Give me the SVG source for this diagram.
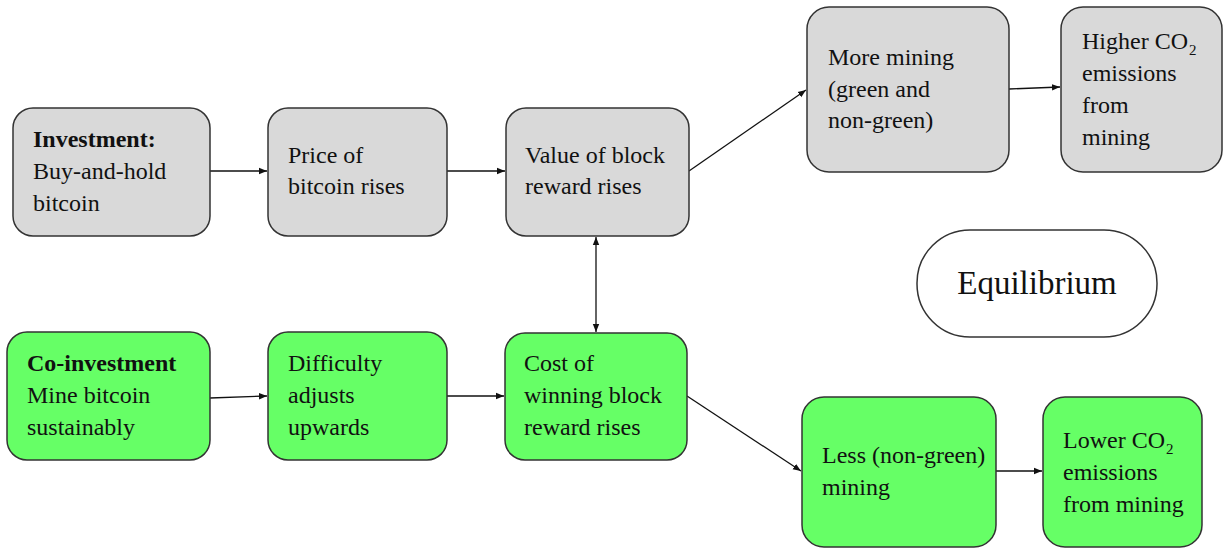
<svg xmlns="http://www.w3.org/2000/svg" width="1224" height="548" viewBox="0 0 1224 548">
<defs>
<style>
.g{fill:#d9d9d9;stroke:#333;stroke-width:1.5}
.gr{fill:#66ff66;stroke:#333;stroke-width:1.5}
.w{fill:#fff;stroke:#333;stroke-width:1.5}
.c{stroke:#111;stroke-width:1.3;fill:none}
</style>
<marker id="ah" viewBox="0 0 10 10" refX="10" refY="5" markerWidth="8" markerHeight="8" markerUnits="userSpaceOnUse" orient="auto-start-reverse">
<path d="M0,1 L10,5 L0,9 z" fill="#111"/>
</marker>
</defs>
<rect width="1224" height="548" fill="#fff"/>
<g id="connectors">
<line class="c" x1="210" y1="171" x2="267" y2="171" marker-end="url(#ah)"/>
<line class="c" x1="447" y1="171" x2="505" y2="171" marker-end="url(#ah)"/>
<line class="c" x1="689" y1="171" x2="806" y2="90" marker-end="url(#ah)"/>
<line class="c" x1="1009" y1="89" x2="1060" y2="87" marker-end="url(#ah)"/>
<line class="c" x1="596" y1="237" x2="596" y2="332" marker-start="url(#ah)" marker-end="url(#ah)"/>
<line class="c" x1="210" y1="398" x2="267" y2="396" marker-end="url(#ah)"/>
<line class="c" x1="447" y1="396" x2="504" y2="396" marker-end="url(#ah)"/>
<line class="c" x1="687" y1="396" x2="801" y2="471" marker-end="url(#ah)"/>
<line class="c" x1="996" y1="471" x2="1042" y2="471" marker-end="url(#ah)"/>
</g>
<g id="investment">
<rect class="g" x="13" y="108" width="197" height="128" rx="20"/>
<text x="33" y="147" style="font-family:'Liberation Serif',serif;font-size:24px;font-weight:bold;fill:#111">Investment:</text>
<text x="33" y="179" style="font-family:'Liberation Serif',serif;font-size:24px;fill:#111">Buy-and-hold</text>
<text x="33" y="211" style="font-family:'Liberation Serif',serif;font-size:24px;fill:#111">bitcoin</text>
</g>
<g id="price">
<rect class="g" x="268" y="108" width="179" height="128" rx="20"/>
<text x="288" y="163" style="font-family:'Liberation Serif',serif;font-size:24px;fill:#111">Price of</text>
<text x="288" y="194" style="font-family:'Liberation Serif',serif;font-size:24px;fill:#111">bitcoin rises</text>
</g>
<g id="value">
<rect class="g" x="506" y="108" width="183" height="128" rx="20"/>
<text x="525" y="163" style="font-family:'Liberation Serif',serif;font-size:24px;fill:#111">Value of block</text>
<text x="525" y="194" style="font-family:'Liberation Serif',serif;font-size:24px;fill:#111">reward rises</text>
</g>
<g id="more-mining">
<rect class="g" x="807" y="7" width="202" height="165" rx="22"/>
<text x="828" y="65" style="font-family:'Liberation Serif',serif;font-size:24px;fill:#111">More mining</text>
<text x="828" y="97" style="font-family:'Liberation Serif',serif;font-size:24px;fill:#111">(green and</text>
<text x="828" y="128" style="font-family:'Liberation Serif',serif;font-size:24px;fill:#111">non-green)</text>
</g>
<g id="higher-co2">
<rect class="g" x="1061" y="7" width="161" height="165" rx="22"/>
<text x="1082" y="49" style="font-family:'Liberation Serif',serif;font-size:24px;fill:#111">Higher CO</text>
<text x="1189" y="55" style="font-family:'Liberation Serif',serif;font-size:15px;fill:#111">2</text>
<text x="1082" y="81" style="font-family:'Liberation Serif',serif;font-size:24px;fill:#111">emissions</text>
<text x="1082" y="113" style="font-family:'Liberation Serif',serif;font-size:24px;fill:#111">from</text>
<text x="1082" y="145" style="font-family:'Liberation Serif',serif;font-size:24px;fill:#111">mining</text>
</g>
<g id="equilibrium">
<rect class="w" x="917" y="230" width="240" height="107" rx="53"/>
<text x="1037" y="294" text-anchor="middle" style="font-family:'Liberation Serif',serif;font-size:33px;fill:#111">Equilibrium</text>
</g>
<g id="co-investment">
<rect class="gr" x="7" y="332" width="203" height="128" rx="20"/>
<text x="27" y="371" style="font-family:'Liberation Serif',serif;font-size:24px;font-weight:bold;fill:#111">Co-investment</text>
<text x="27" y="403" style="font-family:'Liberation Serif',serif;font-size:24px;fill:#111">Mine bitcoin</text>
<text x="27" y="435" style="font-family:'Liberation Serif',serif;font-size:24px;fill:#111">sustainably</text>
</g>
<g id="difficulty">
<rect class="gr" x="268" y="332" width="179" height="128" rx="20"/>
<text x="288" y="371" style="font-family:'Liberation Serif',serif;font-size:24px;fill:#111">Difficulty</text>
<text x="288" y="403" style="font-family:'Liberation Serif',serif;font-size:24px;fill:#111">adjusts</text>
<text x="288" y="435" style="font-family:'Liberation Serif',serif;font-size:24px;fill:#111">upwards</text>
</g>
<g id="cost">
<rect class="gr" x="505" y="333" width="182" height="127" rx="20"/>
<text x="524" y="371" style="font-family:'Liberation Serif',serif;font-size:24px;fill:#111">Cost of</text>
<text x="524" y="403" style="font-family:'Liberation Serif',serif;font-size:24px;fill:#111">winning block</text>
<text x="524" y="435" style="font-family:'Liberation Serif',serif;font-size:24px;fill:#111">reward rises</text>
</g>
<g id="less-mining">
<rect class="gr" x="802" y="397" width="194" height="150" rx="22"/>
<text x="822" y="463" style="font-family:'Liberation Serif',serif;font-size:24px;fill:#111">Less (non-green)</text>
<text x="822" y="495" style="font-family:'Liberation Serif',serif;font-size:24px;fill:#111">mining</text>
</g>
<g id="lower-co2">
<rect class="gr" x="1043" y="397" width="159" height="150" rx="22"/>
<text x="1063" y="448" style="font-family:'Liberation Serif',serif;font-size:24px;fill:#111">Lower CO</text>
<text x="1166" y="454" style="font-family:'Liberation Serif',serif;font-size:15px;fill:#111">2</text>
<text x="1063" y="480" style="font-family:'Liberation Serif',serif;font-size:24px;fill:#111">emissions</text>
<text x="1063" y="512" style="font-family:'Liberation Serif',serif;font-size:24px;fill:#111">from mining</text>
</g>
</svg>
